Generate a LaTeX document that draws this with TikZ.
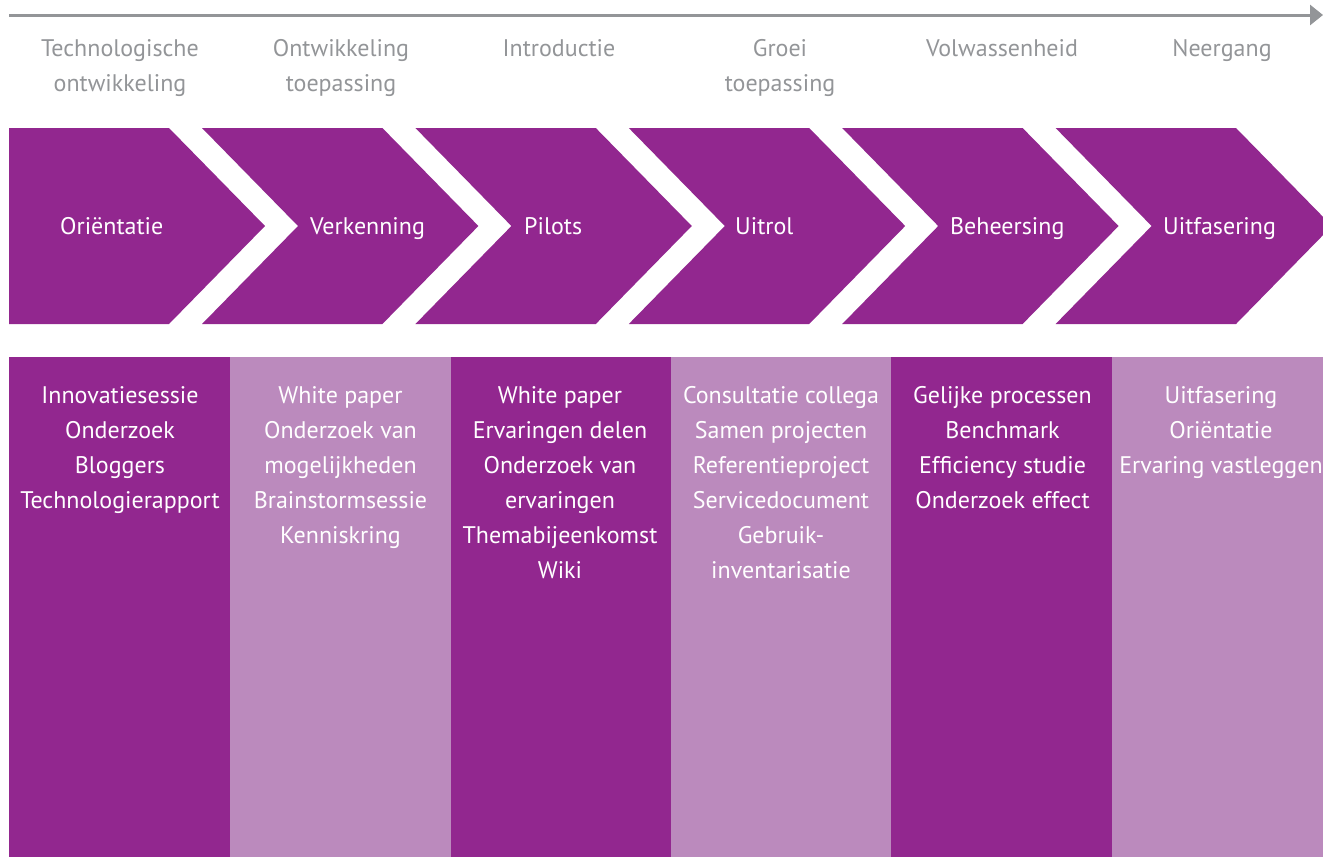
\documentclass[tikz,border=0pt]{standalone}
\usepackage{fontspec}
\setmainfont{PT Sans}
\usetikzlibrary{arrows.meta}
\definecolor{dpurple}{HTML}{92278F}
\definecolor{lpurple}{HTML}{BB8ABD}
\definecolor{tgray}{HTML}{939598}
\begin{document}
\begin{tikzpicture}[x=1pt,y=-1pt,
  hdr/.style={text=tgray,font=\fontsize{24}{28}\selectfont,anchor=base,inner sep=0pt},
  chevlabel/.style={text=white,font=\fontsize{24}{28}\selectfont,anchor=base west,inner sep=0pt},
  coltext/.style={text=white,font=\fontsize{24}{28}\selectfont,anchor=base,inner sep=0pt},
  timeline/.style={draw=tgray,line width=3pt,-{Triangle[length=13pt,width=20pt]}},
  chev/.style={fill=dpurple},
  darkcol/.style={fill=dpurple},
  lightcol/.style={fill=lpurple}]
\useasboundingbox (0,0) rectangle (1323,857);
\clip (0,0) rectangle (1323,857);

% timeline arrow
\coordinate (tlstart) at (9,15);
\coordinate (tlend) at (1323,15);
\draw[timeline] (tlstart) -- (tlend);

% headers
\node[hdr] (h1a) at (120,56) {Technologische};
\node[hdr] (h1b) at (120,91) {ontwikkeling};
\node[hdr] (h2a) at (341,56) {Ontwikkeling};
\node[hdr] (h2b) at (341,91) {toepassing};
\node[hdr] (h3a) at (559,56) {Introductie};
\node[hdr] (h4a) at (780,56) {Groei};
\node[hdr] (h4b) at (780,91) {toepassing};
\node[hdr] (h5a) at (1002,56) {Volwassenheid};
\node[hdr] (h6a) at (1222,56) {Neergang};

% chevrons
\fill[chev] (9,128) -- (169,128) -- (265,226) -- (169,324) -- (9,324) -- cycle;
\fill[chev] (202,128) -- (382.4,128) -- (478.4,226) -- (382.4,324) -- (202,324) -- (298,226) -- cycle;
\fill[chev] (415.4,128) -- (595.8,128) -- (691.8,226) -- (595.8,324) -- (415.4,324) -- (511.4,226) -- cycle;
\fill[chev] (628.8,128) -- (809.2,128) -- (905.2,226) -- (809.2,324) -- (628.8,324) -- (724.8,226) -- cycle;
\fill[chev] (842.2,128) -- (1022.6,128) -- (1118.6,226) -- (1022.6,324) -- (842.2,324) -- (938.2,226) -- cycle;
\fill[chev] (1055.6,128) -- (1236,128) -- (1332,226) -- (1236,324) -- (1055.6,324) -- (1151.6,226) -- cycle;

\node[chevlabel] (p1) at (60,234) {Oriëntatie};
\node[chevlabel] (p2) at (310,234) {Verkenning};
\node[chevlabel] (p3) at (524,234) {Pilots};
\node[chevlabel] (p4) at (735,234) {Uitrol};
\node[chevlabel] (p5) at (950,234) {Beheersing};
\node[chevlabel] (p6) at (1163,234) {Uitfasering};

% columns
\fill[darkcol] (9,357) rectangle (230,857);
\fill[lightcol] (230,357) rectangle (451,857);
\fill[darkcol] (451,357) rectangle (671,857);
\fill[lightcol] (671,357) rectangle (891,857);
\fill[darkcol] (891,357) rectangle (1112,857);
\fill[lightcol] (1112,357) rectangle (1323,857);

\foreach \t [count=\i] in {Innovatiesessie,Onderzoek,Bloggers,Technologierapport}
  \node[coltext] (ca\i) at (120,368+35*\i) {\t};
\foreach \t [count=\i] in {White paper,Onderzoek van,mogelijkheden,Brainstormsessie,Kenniskring}
  \node[coltext] (cb\i) at (340.5,368+35*\i) {\t};
\foreach \t [count=\i] in {White paper,Ervaringen delen,Onderzoek van,ervaringen,Themabijeenkomst,Wiki}
  \node[coltext] (cc\i) at (560,368+35*\i) {\t};
\foreach \t [count=\i] in {Consultatie collega,Samen projecten,Referentieproject,Servicedocument,Gebruik-,inventarisatie}
  \node[coltext] (cd\i) at (781,368+35*\i) {\t};
\foreach \t [count=\i] in {Gelijke processen,Benchmark,Efficiency studie,Onderzoek effect}
  \node[coltext] (ce\i) at (1002.5,368+35*\i) {\t};
\foreach \t [count=\i] in {Uitfasering,Oriëntatie,Ervaring vastleggen}
  \node[coltext] (cf\i) at (1221,368+35*\i) {\t};
\end{tikzpicture}
\end{document}
